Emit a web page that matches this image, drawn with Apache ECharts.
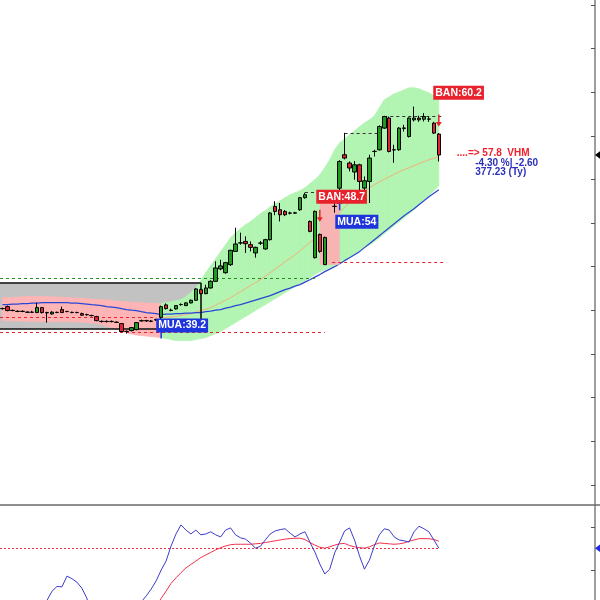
<!DOCTYPE html>
<html><head><meta charset="utf-8">
<script src="https://cdn.jsdelivr.net/npm/echarts@6/dist/echarts.min.js"></script>
<style>html,body{margin:0;padding:0;background:#fff}#c{width:600px;height:600px}</style>
</head><body><div id="c"></div>
<script>
// ---------- price data (candle index 0..88) ----------
const opens  = [40.21,40.43,40.00,39.90,39.88,39.80,39.78,39.75,40.32,39.75,39.60,39.78,40.09,39.86,39.78,39.75,39.63,39.52,39.42,39.29,38.75,38.72,38.74,38.65,38.49,37.60,37.69,37.80,38.80,38.83,38.75,38.90,39.20,40.63,40.02,40.17,40.66,40.55,40.86,41.16,42.38,41.92,42.57,43.33,44.75,44.32,45.24,46.76,47.72,47.90,47.53,46.58,47.70,47.04,48.10,51.91,51.53,51.34,51.16,51.14,51.53,52.91,50.19,46.04,48.70,45.24,52.60,51.93,54.00,57.83,56.88,55.85,56.68,54.01,54.77,58.20,58.40,60.88,62.03,58.40,58.40,60.85,59.92,61.83,62.03,61.90,61.90,61.45,60.20];
const closes = [40.21,39.98,39.98,39.88,39.90,39.78,39.80,40.32,39.75,39.72,39.80,39.76,39.75,39.88,39.75,39.76,39.45,39.50,39.40,38.83,38.72,38.74,38.72,38.62,37.58,37.58,38.03,38.60,38.83,38.80,38.78,38.95,40.43,40.21,40.00,40.55,40.68,40.86,41.16,42.46,41.92,42.57,43.33,44.86,45.10,45.47,46.88,47.61,47.74,47.64,47.22,47.22,47.72,48.10,51.16,51.34,50.96,50.96,51.14,51.18,52.91,53.25,49.05,51.34,46.76,48.36,52.70,51.90,57.06,57.45,56.31,56.68,54.77,54.85,57.45,58.22,61.06,62.21,58.20,58.38,60.88,60.90,62.03,62.03,61.83,62.21,61.93,60.31,57.80];
const lows   = [40.10,39.90,39.90,39.80,39.80,39.70,39.70,39.70,39.65,38.60,39.50,39.68,39.70,39.80,39.68,39.68,39.40,39.40,39.32,38.75,38.62,38.62,38.62,38.55,37.50,37.35,37.60,37.72,38.70,38.70,38.65,38.80,38.95,40.10,39.90,40.10,40.55,40.50,40.80,41.10,41.85,41.85,42.50,43.25,44.60,44.20,45.10,46.70,47.53,46.58,46.76,46.04,47.50,46.95,48.00,50.90,50.19,50.80,51.00,51.05,51.40,52.80,48.95,45.95,46.60,45.20,52.40,51.19,53.70,57.30,55.92,54.97,53.63,53.25,52.30,57.63,58.30,60.80,58.10,56.91,58.30,60.49,59.80,61.64,61.60,61.64,61.60,60.20,57.06];
const highs  = [40.32,40.55,40.10,40.00,39.98,39.90,39.95,40.89,40.40,39.85,39.90,39.86,40.43,39.95,39.85,39.85,39.75,39.62,39.50,39.38,38.85,38.85,38.85,38.75,38.55,37.70,38.10,38.65,38.95,38.92,38.88,39.05,40.55,40.80,40.20,40.60,40.80,40.95,41.25,42.55,42.50,42.95,43.45,45.62,45.80,45.55,46.95,49.47,48.90,48.48,47.90,47.30,47.95,48.20,51.25,52.50,52.30,51.50,51.30,51.30,53.00,53.48,50.30,51.45,48.80,48.45,53.00,52.68,57.20,60.34,57.06,57.10,56.80,55.34,57.83,58.40,61.20,62.29,62.20,58.97,61.00,61.26,62.10,63.35,62.30,62.60,62.20,61.60,60.30];

// band (envelope) upper / lower; pink part until index 32, green after
const bandUpper = [41.46,41.46,41.50,41.52,41.55,41.58,41.58,41.58,41.58,41.56,41.55,41.52,41.50,41.48,41.46,41.42,41.38,41.35,41.30,41.26,41.24,41.18,41.12,41.06,41.01,40.98,40.95,40.92,40.89,40.86,40.83,40.80,40.78,
  40.89,41.01,41.12,41.24,41.58,42.04,42.61,43.41,44.33,45.13,45.93,46.73,47.53,48.33,48.90,49.36,49.82,50.16,50.62,51.08,51.42,51.88,52.22,52.56,52.91,53.25,53.48,53.71,54.05,54.51,54.97,55.54,56.34,57.25,58.40,59.20,59.66,60.11,60.57,61.03,61.49,61.83,62.29,63.20,64.12,64.46,64.81,65.03,65.26,65.49,65.49,65.38,65.15,64.92,64.58,64.23];
const bandLower = [38.83,38.83,38.80,38.80,38.77,38.77,38.75,38.75,38.72,38.72,38.72,38.72,38.72,38.72,38.70,38.68,38.66,38.62,38.58,38.49,38.38,38.21,38.03,37.86,37.69,37.46,37.29,37.17,37.12,37.06,37.00,36.94,36.89,
  36.77,36.66,36.54,36.54,36.54,36.54,36.66,36.77,36.89,37.12,37.35,37.57,37.92,38.26,38.60,38.95,39.29,39.63,39.98,40.32,40.66,41.01,41.35,41.69,42.04,42.38,42.72,43.07,43.41,43.75,44.10,44.44,44.67,44.90,45.13,45.35,45.70,46.04,46.38,46.73,47.19,47.53,47.87,48.33,48.79,49.25,49.70,50.16,50.62,51.08,51.53,52.11,52.68,53.14,53.71,54.28];
const pinkUntil = 32;

const maBlue = [40.66,40.66,40.72,40.72,40.78,40.78,40.84,40.84,40.89,40.89,40.89,40.89,40.89,40.89,40.84,40.84,40.78,40.72,40.66,40.61,40.55,40.43,40.38,40.32,40.21,40.09,40.03,39.98,39.86,39.75,39.69,39.63,39.52,39.58,39.58,39.63,39.63,39.69,39.69,39.75,39.75,39.86,39.92,40.03,40.09,40.26,40.38,40.55,40.66,40.84,41.01,41.18,41.35,41.52,41.69,41.92,42.15,42.38,42.55,42.78,42.95,43.24,43.52,43.81,44.10,44.44,44.73,45.01,45.35,45.70,46.04,46.38,46.73,47.19,47.64,48.10,48.56,49.02,49.47,49.93,50.39,50.85,51.25,51.65,52.11,52.56,53.02,53.42,53.82];
const maOrangeStart = 32;
const maOrange = [39.18,39.21,39.23,39.31,39.41,39.52,39.63,39.81,39.98,40.15,40.32,40.61,40.89,41.18,41.46,41.81,42.15,42.49,42.84,43.18,43.52,43.92,44.32,44.73,45.13,45.58,45.98,46.38,46.84,47.30,47.76,48.27,48.79,49.42,50.05,50.68,51.25,51.82,52.33,52.79,53.25,53.65,54.05,54.39,54.74,55.02,55.31,55.59,55.88,56.11,56.34,56.57,56.80,57.03,57.25,57.43,57.60];

// lower indicator
const oscBlue = [36,35,35,36,37,38,39,40,41,43.1,45.2,46.3,46.2,48.7,48.1,47.3,45.9,43.6,40,38,36,35,34,34,35,36,37,39,42.7,44.1,45.7,47.6,50.1,52.2,55.7,58.5,60.6,59.4,58.5,59.4,58.3,58.5,59.0,58.3,57.8,59.4,59.9,58.3,57.6,57.3,56.4,55.2,55.6,57.1,58.5,59.2,59.5,59.7,58.7,57.8,58.5,59.0,56.6,54.3,51.5,49.2,50.3,54.1,56.6,59.2,59.9,57.1,53.4,50.3,52.4,55.7,58.3,59.7,59.4,57.8,57.1,56.9,56.6,59.0,60.3,59.7,59.0,57.1,55.2];
const oscRed = [36,36,36,36,36,36,36,37,37,37,37,37,37,37,37,37,37,37,36,36,36,35,35,35,35,35,35,36,37,38.5,40,41.8,43.5,45.2,47.0,48.3,49.5,50.6,51.4,52.2,53.0,53.6,54.2,54.8,55.3,55.7,56.0,56.1,56.1,56.1,56.1,56.2,56.3,56.5,56.7,56.9,57.1,57.3,57.4,57.5,57.5,57.2,56.5,55.9,55.4,55.2,55.5,55.9,56.2,56.3,55.8,55.5,55.3,55.2,55.5,56.0,56.4,56.3,56.2,56.1,56.2,56.4,56.8,57.1,57.4,57.4,57.4,57.2,56.8];
const oscLevel = 55.2;

// box (range) and horizontal levels
const boxTop = 43.18, boxBottom = 37.85, boxEnd = 40;
const levels = [
  {from:-0.5, to:63,   value:43.64, kind:'g'},
  {from:-0.5, to:65,   value:37.46, kind:'r'},
  {from:-0.5, to:31,   value:39.18, kind:'r'},
  {from:66.5, to:89,   value:45.47, kind:'r'},
  {from:61,   to:67,   value:53.48, kind:'k'},
  {from:69,   to:76,   value:60.34, kind:'k'},
  {from:77,   to:88.5, value:62.29, kind:'k'}
];

// signals
const signalText = ['MUA:39.2','BAN:48.7','MUA:54','BAN:60.2'];
const signalBuy  = [true,false,true,false];
const signalIdx  = [32,64,68,88];
const arrowPrice = [37.7,50.85,52.05,61.75];
const labelX = [30.96,63.24,67.07,86.83];
const labelY = [38.26,53.02,50.16,64.92];
const lastPrice = 57.8;
const infoLines = ['....=> 57.8  VHM','-4.30 %| -2.60','377.23 (Ty)'];
const infoX = [91.57,95.3,95.3];
const infoY = [58.0,56.85,55.77];

// ---------- chart ----------
const RED='#E8222C', BLUE='#1E34DC', GREEN_D='#1F8F1F';
const FONT='Liberation Sans, Arial, sans-serif';
const chart = echarts.init(document.getElementById('c'));

const bandItems = [];
for (let i = 0; i < bandUpper.length - 1; i++) {
  bandItems.push([i, i+1, bandUpper[i], bandUpper[i+1], bandLower[i+1], bandLower[i], i < pinkUntil ? 1 : 0]);
}

const downArrow = 'path://M3,0L5,0L5,10L8,10L4,16L0,10L3,10Z';
const upArrow = 'path://M4,0L8,6L5,6L5,16L3,16L3,6L0,6Z';

const markPts = [];
signalText.forEach((t, k) => {
  markPts.push({coord:[signalIdx[k], arrowPrice[k]], symbol: signalBuy[k]?upArrow:downArrow,
    symbolSize: signalBuy[k] ? (k===0?[6,16]:[6,10]) : [6,12],
    itemStyle:{color: signalBuy[k]?BLUE:RED}, label:{show:false}});
});
signalText.forEach((t, k) => {
  markPts.push({coord:[labelX[k], labelY[k]], symbol:'circle', symbolSize:0.5, itemStyle:{color:'rgba(0,0,0,0)'},
    label:{show:true, position:'right', distance:0, formatter:t, color:'#fff', fontWeight:'bold', fontSize:10.5,
      fontFamily:FONT, backgroundColor: signalBuy[k]?BLUE:RED, padding:[2,2,1,2], lineHeight:11}});
});
infoLines.forEach((t, k) => {
  markPts.push({coord:[infoX[k], infoY[k]], symbol:'circle', symbolSize:0.5, itemStyle:{color:'rgba(0,0,0,0)'},
    label:{show:true, position:'right', distance:0, formatter:t, color: k===0?'#F0202C':'#2A30B8', fontWeight:'bold', fontSize:10, fontFamily:FONT}});
});
markPts.push({coord:[119.5, lastPrice], symbol:'path://M0,5L8,0L8,10Z', symbolSize:[6,9], symbolOffset:[3,0], itemStyle:{color:'#000'}, label:{show:false}});

const dash = [3,3];
const levelColor = {g:GREEN_D, r:RED, k:'#333'};
const levelLines = levels.map(l => [
  {coord:[l.from, l.value], lineStyle:{color:levelColor[l.kind], type:dash, width:1}},
  {coord:[l.to, l.value]}
]);
const boxBorder = {color:'#111', type:'solid', width:1.6};
const boxLines = [
  [{coord:[-0.5, boxTop], lineStyle:boxBorder}, {coord:[boxEnd, boxTop]}],
  [{coord:[-0.5, boxBottom], lineStyle:boxBorder}, {coord:[boxEnd, boxBottom]}],
  [{coord:[boxEnd, boxBottom], lineStyle:boxBorder}, {coord:[boxEnd, boxTop]}]
];

const option = {
  animation:false,
  backgroundColor:'#fff',
  grid:[
    {left:0, right:5, top:-38.8, height:523.8, containLabel:false, outerBoundsMode:'none'},
    {left:0, right:5, top:485, height:214.5, containLabel:false, outerBoundsMode:'none'},
    {left:-10, right:-10, top:505, height:20, containLabel:false, outerBoundsMode:'none'}
  ],
  xAxis:[
    {gridIndex:0, type:'value', min:-0.5, max:119.5, show:false},
    {gridIndex:1, type:'value', min:-0.5, max:119.5, show:false},
    {gridIndex:2, type:'value', min:0, max:1, position:'top', axisLine:{show:true, onZero:false, lineStyle:{color:'#6a6a6a', width:1.6}}, axisTick:{show:false}, axisLabel:{show:false}, splitLine:{show:false}}
  ],
  yAxis:[
    {gridIndex:0, type:'value', min:20, max:80, interval:5, position:'right', axisLine:{show:true, onZero:false, lineStyle:{color:'#868686', width:1.6}}, axisTick:{show:true, inside:true, length:4, lineStyle:{color:'#555'}}, axisLabel:{show:false}, splitLine:{show:false}},
    {gridIndex:1, type:'value', min:20, max:69.88, interval:10, position:'right', axisLine:{show:true, onZero:false, lineStyle:{color:'#868686', width:1.6}}, axisTick:{show:true, inside:true, length:4, lineStyle:{color:'#555'}}, axisLabel:{show:false}, splitLine:{show:false}},
    {gridIndex:2, type:'value', min:0, max:1, show:false}
  ],
  series:[
    {type:'custom', xAxisIndex:0, yAxisIndex:0, z:2, silent:true, data:bandItems,
      renderItem:function(params, api){
        const a = api.value(0), b = api.value(1);
        const pts = [api.coord([a, api.value(2)]), api.coord([b, api.value(3)]), api.coord([b, api.value(4)]), api.coord([a, api.value(5)])];
        const col = api.value(6) ? '#FFB5B5' : '#B2F4B2';
        return {type:'polygon', shape:{points:pts}, style:{fill:col, stroke:col, lineWidth:0.7}};
      }},
    {type:'line', name:'maOrange', xAxisIndex:0, yAxisIndex:0, z:3, silent:true, symbol:'none',
      data: maOrange.map((v,k)=>[maOrangeStart+k, v]), lineStyle:{color:'#F2B07C', width:1},
      markArea:{z:1, silent:true, data:[[{coord:[-0.5, boxTop], itemStyle:{color:'#C2C2C2', opacity:1}}, {coord:[boxEnd, boxBottom]}]]},
      markLine:{z:3.7, silent:true, symbol:['none','none'], label:{show:false}, data: levelLines}},
    {type:'line', name:'maBlue', xAxisIndex:0, yAxisIndex:0, z:3, silent:true, symbol:'none',
      data: maBlue.map((v,i)=>[i, v]), lineStyle:{color:'#2A46D6', width:1.2},
      markArea:{z:3.5, silent:true, data:[
        [{coord:[64, 53.6], itemStyle:{color:'#F8B3B3', opacity:1}}, {coord:[68, 45.24]}]
      ]},
      markLine:{z:3.6, silent:true, symbol:['none','none'], label:{show:false}, data: boxLines},
      markPoint:{z:6, silent:true, data:markPts}},
    {type:'candlestick', xAxisIndex:0, yAxisIndex:0, z:4, silent:true, barWidth:4,
      data: opens.map((o,i)=>[i, o, closes[i], lows[i], highs[i]]),
      itemStyle:{color:'#1F9A1F', color0:'#E0262E', borderColor:'#000', borderColor0:'#000', borderColorDoji:'#000', borderWidth:1}},
    {type:'line', xAxisIndex:1, yAxisIndex:1, z:3, silent:true, symbol:'none',
      data: oscRed.map((v,i)=>[i, v]), lineStyle:{color:'#F0304C', width:1},
      markLine:{z:2, silent:true, symbol:['none','none'], label:{show:false}, data:[
        [{coord:[-0.5, oscLevel], lineStyle:{color:'#E8303E', type:[2,2], width:1}}, {coord:[88, oscLevel]}]
      ]}},
    {type:'line', xAxisIndex:1, yAxisIndex:1, z:3, silent:true, symbol:'none',
      data: oscBlue.map((v,i)=>[i, v]), lineStyle:{color:'#3C3CCC', width:1},
      markPoint:{z:6, silent:true, data:[{coord:[119.5, oscLevel], symbol:'path://M0,5L8,0L8,10Z', symbolSize:[6,9], symbolOffset:[3,0], itemStyle:{color:'#1E2CE0'}, label:{show:false}}]}}
  ]
};
chart.setOption(option);
</script>
</body></html>
